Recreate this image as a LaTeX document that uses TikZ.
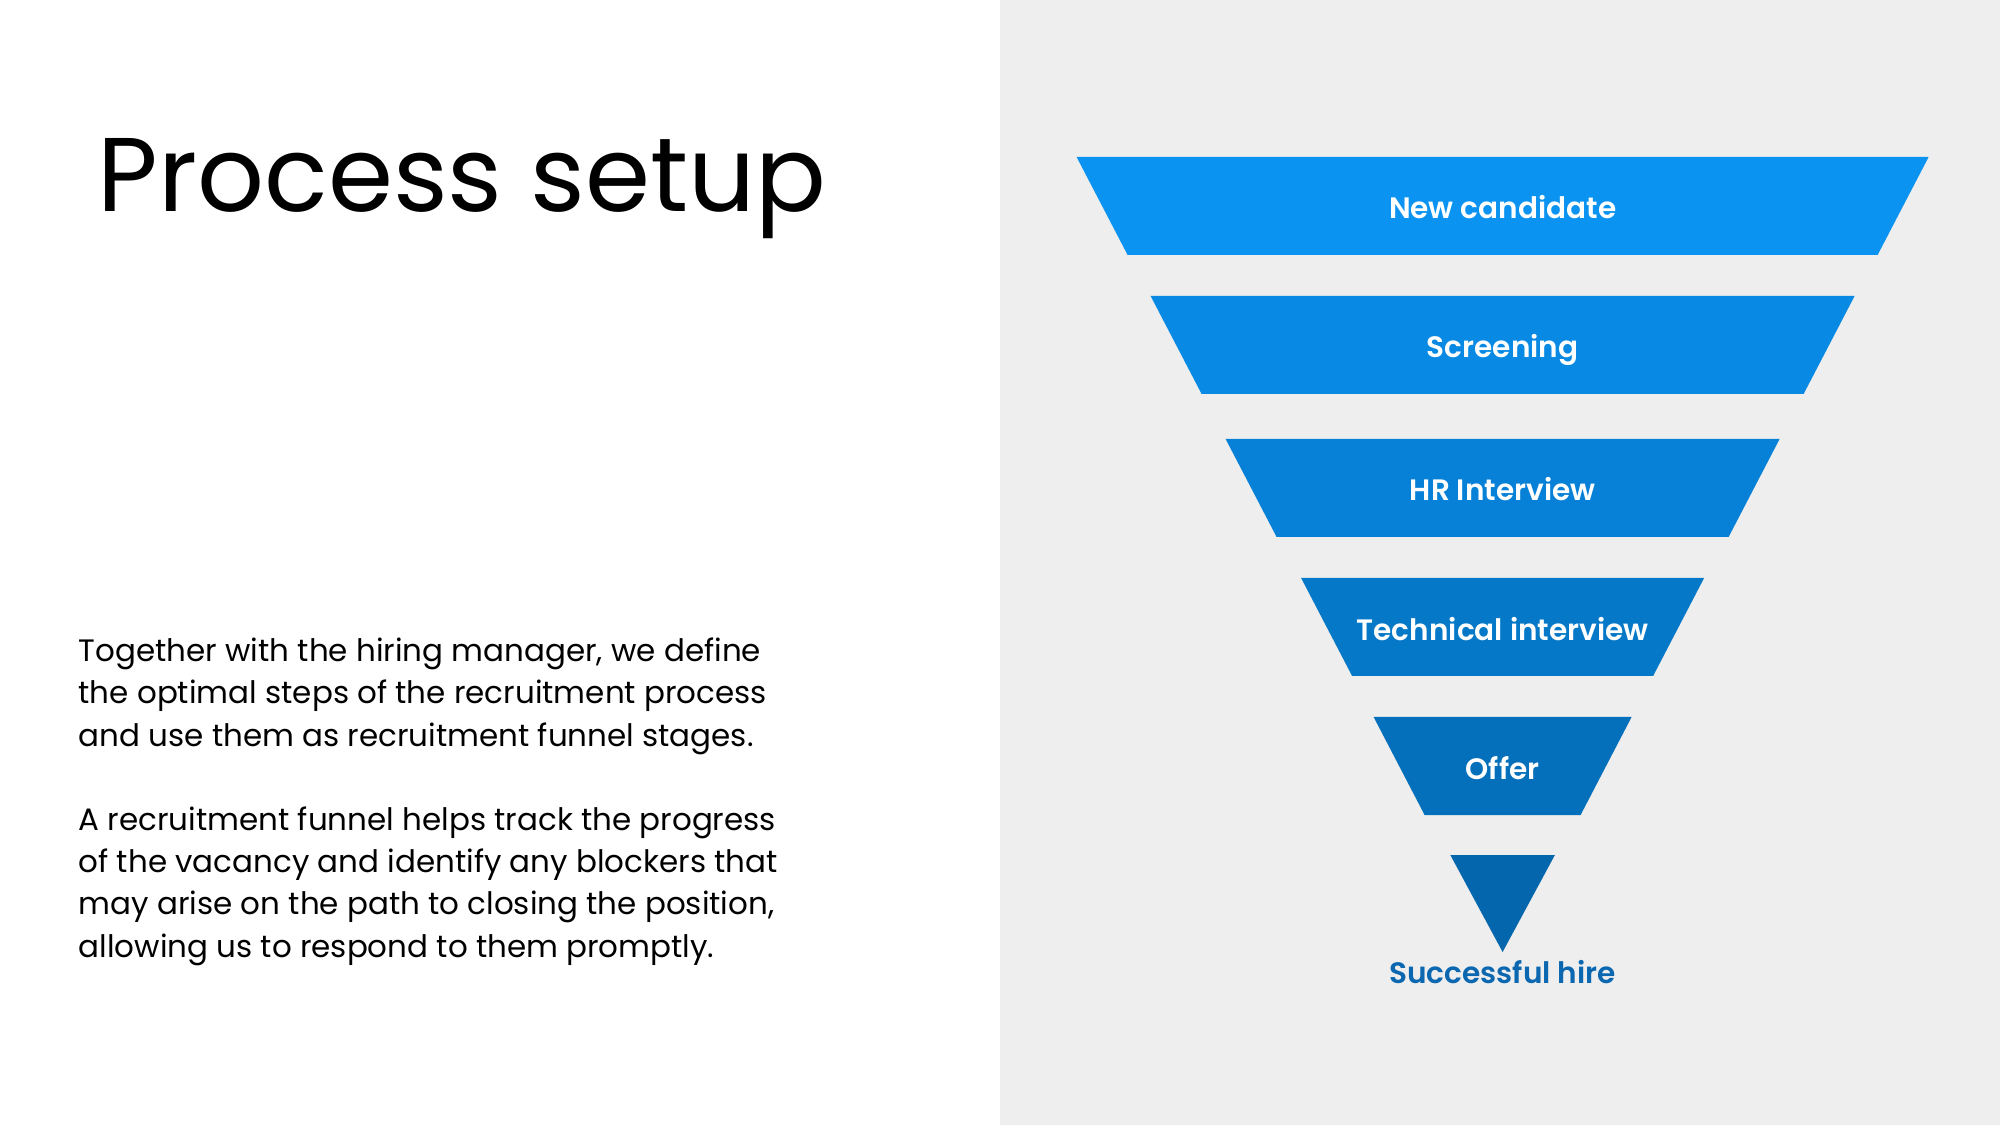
\documentclass[tikz,border=0pt]{standalone}
\usepackage{fontspec}
\setmainfont{Poppins}[BoldFont={Poppins SemiBold}]
\definecolor{panelgray}{HTML}{EEEEEE}
\definecolor{stageA}{HTML}{0B93F1}
\definecolor{stageB}{HTML}{0889E3}
\definecolor{stageC}{HTML}{0781D7}
\definecolor{stageD}{HTML}{0579C8}
\definecolor{stageE}{HTML}{046FBA}
\definecolor{stageF}{HTML}{0467AD}
\definecolor{hireblue}{HTML}{0A67B0}
\tikzset{
  stagelabel/.style={text=white, font=\fontsize{8.4}{10}\selectfont\bfseries, inner sep=0pt, anchor=base},
  bodytext/.style={font=\fontsize{8.8}{12}\selectfont, align=left, anchor=base west, inner sep=0pt, text=black},
}
\begin{document}
\begin{tikzpicture}[x=0.01cm,y=-0.01cm]
\useasboundingbox (0,0) rectangle (2000,1125);
\fill[white] (0,0) rectangle (1000,1125);
\fill[panelgray] (1000,0) rectangle (2000,1125);

\node[anchor=base west, inner sep=0pt, font=\fontsize{29.8}{36}\selectfont] (title) at (97,212) {Process setup};

\node[bodytext] (para1) at (78,746) {Together with the hiring manager, we define\\the optimal steps of the recruitment process\\and use them as recruitment funnel stages.};
\node[bodytext] (para2) at (78,957) {A recruitment funnel helps track the progress\\of the vacancy and identify any blockers that\\may arise on the path to closing the position,\\allowing us to respond to them promptly.};

% funnel stages (centre x = 1502.6)
\fill[stageA] (1076.6,157) -- (1928.6,157) -- (1877.6,255) -- (1127.6,255) -- cycle;
\node[stagelabel] (s1) at (1502.6,219) {New candidate};
\fill[stageB] (1150.6,296) -- (1854.6,296) -- (1803.6,394) -- (1201.6,394) -- cycle;
\node[stagelabel] (s2) at (1502.6,358) {Screening};
\fill[stageC] (1225.6,439) -- (1779.6,439) -- (1728.6,537) -- (1276.6,537) -- cycle;
\node[stagelabel] (s3) at (1502.6,501) {HR Interview};
\fill[stageD] (1301.1,578) -- (1704.1,578) -- (1653.1,676) -- (1352.1,676) -- cycle;
\node[stagelabel] (s4) at (1502.6,640) {Technical interview};
\fill[stageE] (1373.6,717) -- (1631.6,717) -- (1580.6,815) -- (1424.6,815) -- cycle;
\node[stagelabel] (s5) at (1502.6,779) {Offer};
\fill[stageF] (1450.3,855) -- (1554.9,855) -- (1502.6,952) -- cycle;
\node[stagelabel, text=hireblue] (s6) at (1502.6,983) {Successful hire};
\end{tikzpicture}
\end{document}
